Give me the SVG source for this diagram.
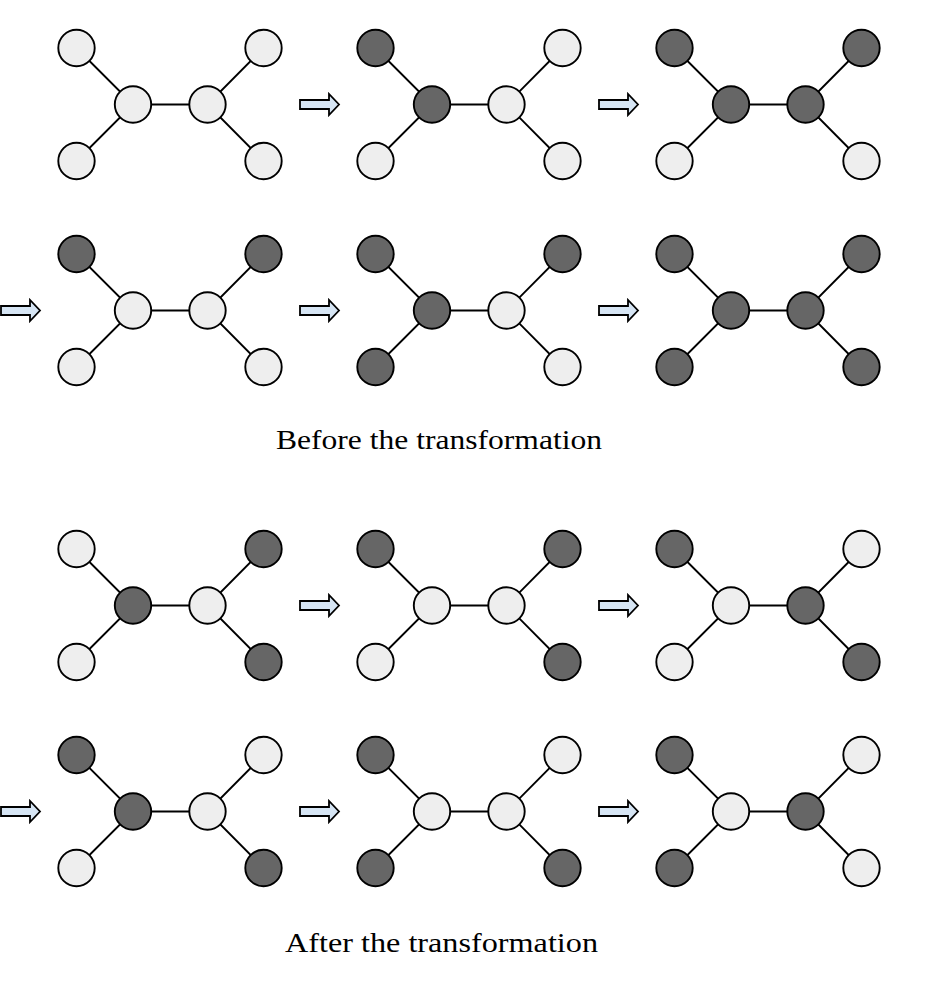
<svg xmlns="http://www.w3.org/2000/svg" xmlns:xlink="http://www.w3.org/1999/xlink" width="950" height="986" viewBox="0 0 950 986">
<style>
circle{stroke:#000;stroke-width:1.9}
.l{fill:#eeeeee}
.d{fill:#666666}
.e{fill:none;stroke:#000;stroke-width:1.9}
.a{fill:#d6e5f4;stroke:#000;stroke-width:1.8;stroke-linejoin:miter}
text{font-family:"Liberation Serif","DejaVu Serif",serif;font-size:28px;fill:#000;text-anchor:middle}
</style>
<defs>
<path id="arr" class="a" d="M0 -4.5H29V-10.5L39 0L29 10.5V4.5H0Z"/>
<path id="ed" d="M76.5 48L133 104.5L76.5 161M133 104.5H207.5M263.5 48L207.5 104.5L263.5 161"/>
</defs>
<rect width="950" height="986" fill="#fff"/>
<g id="connectors" class="e">
<use xlink:href="#ed" href="#ed" transform="translate(0,0)"/>
<use xlink:href="#ed" href="#ed" transform="translate(299,0)"/>
<use xlink:href="#ed" href="#ed" transform="translate(598,0)"/>
<use xlink:href="#ed" href="#ed" transform="translate(0,206)"/>
<use xlink:href="#ed" href="#ed" transform="translate(299,206)"/>
<use xlink:href="#ed" href="#ed" transform="translate(598,206)"/>
<use xlink:href="#ed" href="#ed" transform="translate(0,501)"/>
<use xlink:href="#ed" href="#ed" transform="translate(299,501)"/>
<use xlink:href="#ed" href="#ed" transform="translate(598,501)"/>
<use xlink:href="#ed" href="#ed" transform="translate(0,707)"/>
<use xlink:href="#ed" href="#ed" transform="translate(299,707)"/>
<use xlink:href="#ed" href="#ed" transform="translate(598,707)"/>
</g>
<g id="arrows">
<use xlink:href="#arr" href="#arr" transform="translate(300,104.5)"/>
<use xlink:href="#arr" href="#arr" transform="translate(599,104.5)"/>
<use xlink:href="#arr" href="#arr" transform="translate(1,310.5)"/>
<use xlink:href="#arr" href="#arr" transform="translate(300,310.5)"/>
<use xlink:href="#arr" href="#arr" transform="translate(599,310.5)"/>
<use xlink:href="#arr" href="#arr" transform="translate(300,605.5)"/>
<use xlink:href="#arr" href="#arr" transform="translate(599,605.5)"/>
<use xlink:href="#arr" href="#arr" transform="translate(1,811.5)"/>
<use xlink:href="#arr" href="#arr" transform="translate(300,811.5)"/>
<use xlink:href="#arr" href="#arr" transform="translate(599,811.5)"/>
</g>
<!-- Row 1 -->
<g id="r1g1tl"><circle class="l" cx="76.5" cy="48" r="18.2"/></g>
<g id="r1g1bl"><circle class="l" cx="76.5" cy="161" r="18.2"/></g>
<g id="r1g1cl"><circle class="l" cx="133" cy="104.5" r="18.2"/></g>
<g id="r1g1cr"><circle class="l" cx="207.5" cy="104.5" r="18.2"/></g>
<g id="r1g1tr"><circle class="l" cx="263.5" cy="48" r="18.2"/></g>
<g id="r1g1br"><circle class="l" cx="263.5" cy="161" r="18.2"/></g>
<g id="r1g2tl"><circle class="d" cx="375.5" cy="48" r="18.2"/></g>
<g id="r1g2bl"><circle class="l" cx="375.5" cy="161" r="18.2"/></g>
<g id="r1g2cl"><circle class="d" cx="432" cy="104.5" r="18.2"/></g>
<g id="r1g2cr"><circle class="l" cx="506.5" cy="104.5" r="18.2"/></g>
<g id="r1g2tr"><circle class="l" cx="562.5" cy="48" r="18.2"/></g>
<g id="r1g2br"><circle class="l" cx="562.5" cy="161" r="18.2"/></g>
<g id="r1g3tl"><circle class="d" cx="674.5" cy="48" r="18.2"/></g>
<g id="r1g3bl"><circle class="l" cx="674.5" cy="161" r="18.2"/></g>
<g id="r1g3cl"><circle class="d" cx="731" cy="104.5" r="18.2"/></g>
<g id="r1g3cr"><circle class="d" cx="805.5" cy="104.5" r="18.2"/></g>
<g id="r1g3tr"><circle class="d" cx="861.5" cy="48" r="18.2"/></g>
<g id="r1g3br"><circle class="l" cx="861.5" cy="161" r="18.2"/></g>
<!-- Row 2 -->
<g id="r2g1tl"><circle class="d" cx="76.5" cy="254" r="18.2"/></g>
<g id="r2g1bl"><circle class="l" cx="76.5" cy="367" r="18.2"/></g>
<g id="r2g1cl"><circle class="l" cx="133" cy="310.5" r="18.2"/></g>
<g id="r2g1cr"><circle class="l" cx="207.5" cy="310.5" r="18.2"/></g>
<g id="r2g1tr"><circle class="d" cx="263.5" cy="254" r="18.2"/></g>
<g id="r2g1br"><circle class="l" cx="263.5" cy="367" r="18.2"/></g>
<g id="r2g2tl"><circle class="d" cx="375.5" cy="254" r="18.2"/></g>
<g id="r2g2bl"><circle class="d" cx="375.5" cy="367" r="18.2"/></g>
<g id="r2g2cl"><circle class="d" cx="432" cy="310.5" r="18.2"/></g>
<g id="r2g2cr"><circle class="l" cx="506.5" cy="310.5" r="18.2"/></g>
<g id="r2g2tr"><circle class="d" cx="562.5" cy="254" r="18.2"/></g>
<g id="r2g2br"><circle class="l" cx="562.5" cy="367" r="18.2"/></g>
<g id="r2g3tl"><circle class="d" cx="674.5" cy="254" r="18.2"/></g>
<g id="r2g3bl"><circle class="d" cx="674.5" cy="367" r="18.2"/></g>
<g id="r2g3cl"><circle class="d" cx="731" cy="310.5" r="18.2"/></g>
<g id="r2g3cr"><circle class="d" cx="805.5" cy="310.5" r="18.2"/></g>
<g id="r2g3tr"><circle class="d" cx="861.5" cy="254" r="18.2"/></g>
<g id="r2g3br"><circle class="d" cx="861.5" cy="367" r="18.2"/></g>
<!-- Row 3 -->
<g id="r3g1tl"><circle class="l" cx="76.5" cy="549" r="18.2"/></g>
<g id="r3g1bl"><circle class="l" cx="76.5" cy="662" r="18.2"/></g>
<g id="r3g1cl"><circle class="d" cx="133" cy="605.5" r="18.2"/></g>
<g id="r3g1cr"><circle class="l" cx="207.5" cy="605.5" r="18.2"/></g>
<g id="r3g1tr"><circle class="d" cx="263.5" cy="549" r="18.2"/></g>
<g id="r3g1br"><circle class="d" cx="263.5" cy="662" r="18.2"/></g>
<g id="r3g2tl"><circle class="d" cx="375.5" cy="549" r="18.2"/></g>
<g id="r3g2bl"><circle class="l" cx="375.5" cy="662" r="18.2"/></g>
<g id="r3g2cl"><circle class="l" cx="432" cy="605.5" r="18.2"/></g>
<g id="r3g2cr"><circle class="l" cx="506.5" cy="605.5" r="18.2"/></g>
<g id="r3g2tr"><circle class="d" cx="562.5" cy="549" r="18.2"/></g>
<g id="r3g2br"><circle class="d" cx="562.5" cy="662" r="18.2"/></g>
<g id="r3g3tl"><circle class="d" cx="674.5" cy="549" r="18.2"/></g>
<g id="r3g3bl"><circle class="l" cx="674.5" cy="662" r="18.2"/></g>
<g id="r3g3cl"><circle class="l" cx="731" cy="605.5" r="18.2"/></g>
<g id="r3g3cr"><circle class="d" cx="805.5" cy="605.5" r="18.2"/></g>
<g id="r3g3tr"><circle class="l" cx="861.5" cy="549" r="18.2"/></g>
<g id="r3g3br"><circle class="d" cx="861.5" cy="662" r="18.2"/></g>
<!-- Row 4 -->
<g id="r4g1tl"><circle class="d" cx="76.5" cy="755" r="18.2"/></g>
<g id="r4g1bl"><circle class="l" cx="76.5" cy="868" r="18.2"/></g>
<g id="r4g1cl"><circle class="d" cx="133" cy="811.5" r="18.2"/></g>
<g id="r4g1cr"><circle class="l" cx="207.5" cy="811.5" r="18.2"/></g>
<g id="r4g1tr"><circle class="l" cx="263.5" cy="755" r="18.2"/></g>
<g id="r4g1br"><circle class="d" cx="263.5" cy="868" r="18.2"/></g>
<g id="r4g2tl"><circle class="d" cx="375.5" cy="755" r="18.2"/></g>
<g id="r4g2bl"><circle class="d" cx="375.5" cy="868" r="18.2"/></g>
<g id="r4g2cl"><circle class="l" cx="432" cy="811.5" r="18.2"/></g>
<g id="r4g2cr"><circle class="l" cx="506.5" cy="811.5" r="18.2"/></g>
<g id="r4g2tr"><circle class="l" cx="562.5" cy="755" r="18.2"/></g>
<g id="r4g2br"><circle class="d" cx="562.5" cy="868" r="18.2"/></g>
<g id="r4g3tl"><circle class="d" cx="674.5" cy="755" r="18.2"/></g>
<g id="r4g3bl"><circle class="d" cx="674.5" cy="868" r="18.2"/></g>
<g id="r4g3cl"><circle class="l" cx="731" cy="811.5" r="18.2"/></g>
<g id="r4g3cr"><circle class="d" cx="805.5" cy="811.5" r="18.2"/></g>
<g id="r4g3tr"><circle class="l" cx="861.5" cy="755" r="18.2"/></g>
<g id="r4g3br"><circle class="l" cx="861.5" cy="868" r="18.2"/></g>
<g id="captions">
<text x="439" y="449" textLength="326" lengthAdjust="spacingAndGlyphs">Before the transformation</text>
<text x="441.5" y="951.5" textLength="313" lengthAdjust="spacingAndGlyphs">After the transformation</text>
</g>
</svg>
